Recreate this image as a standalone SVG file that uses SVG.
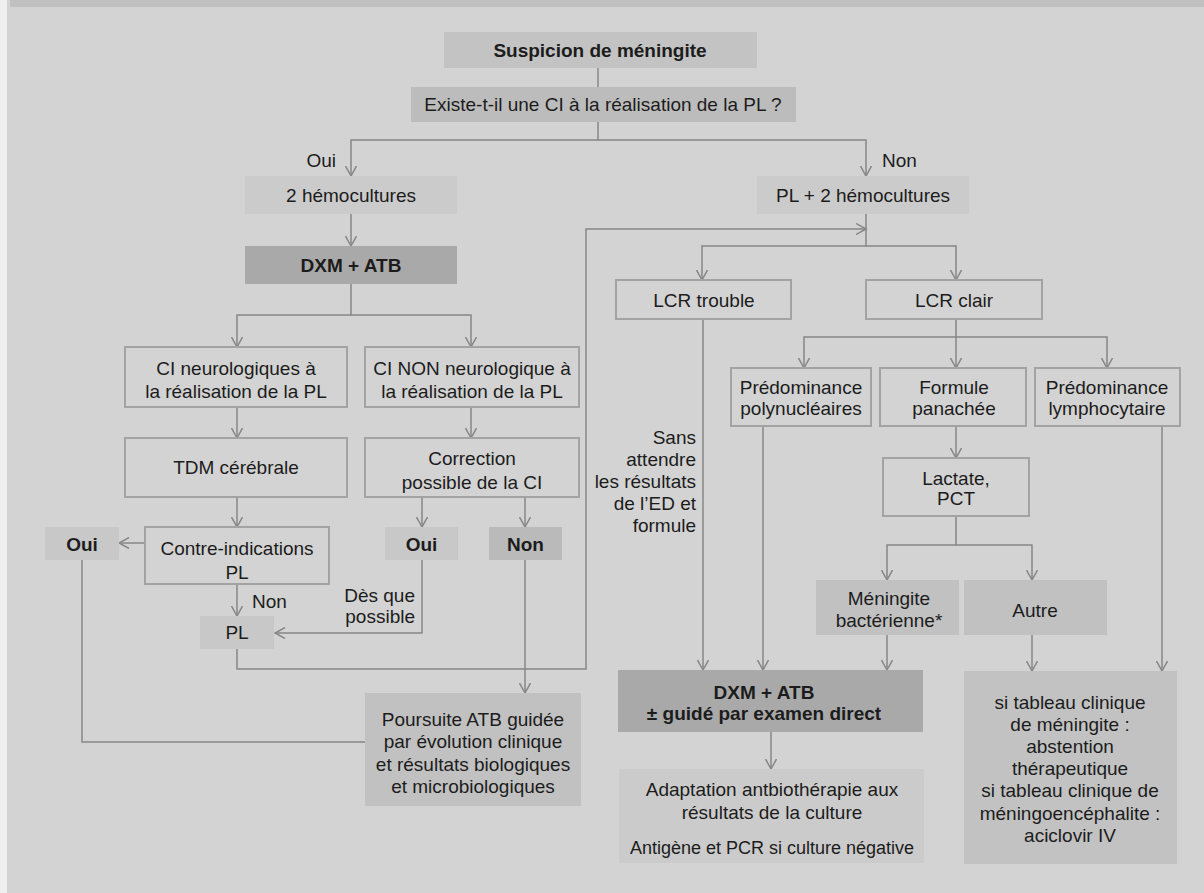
<svg xmlns="http://www.w3.org/2000/svg" width="1204" height="893" viewBox="0 0 1204 893">
<defs>
<style>
text{font-family:"Liberation Sans",Arial,Helvetica,sans-serif;font-size:19px;fill:#1c1c1c;text-anchor:middle}
.b{font-weight:bold}
.l{text-anchor:end}
.s{text-anchor:start}
.ob{fill:#d3d3d3;stroke:#a3a3a3;stroke-width:2}
.light{fill:#cbcbcb}
.mid{fill:#c1c1c1}
.dark{fill:#a9a9a9}
.conn path{fill:none;stroke:#878787;stroke-width:1.5}
.conn path.a{marker-end:url(#arr)}
</style>
<marker id="arr" viewBox="0 0 12 12" refX="10.5" refY="6" markerWidth="12" markerHeight="12" markerUnits="userSpaceOnUse" orient="auto">
<path d="M0.5,0.5 L10.5,6 L0.5,11.5" fill="none" stroke="#878787" stroke-width="1.5"/>
</marker>
</defs>
<rect x="0" y="0" width="1204" height="893" fill="#d3d3d3"/>
<rect x="0" y="0" width="7" height="893" fill="#f0f0f0"/>
<rect x="10" y="0" width="1194" height="7" fill="#c0c0c0"/>

<g class="conn" id="connectors">
<path d="M598,68 V87"/>
<path class="a" d="M598,122 V140 H351 V176"/>
<path class="a" d="M598,140 H866 V176"/>
<path class="a" d="M351,214 V246"/>
<path class="a" d="M351,284 V315 H237 V347"/>
<path class="a" d="M351,315 H471 V347"/>
<path class="a" d="M237,407 V438"/>
<path class="a" d="M471,407 V438"/>
<path class="a" d="M237,497 V527"/>
<path class="a" d="M145,543 H119"/>
<path class="a" d="M422,497 V527"/>
<path class="a" d="M525,497 V527"/>
<path class="a" d="M237,584 V616"/>
<path class="a" d="M422,560 V633 H275"/>
<path class="a" d="M237,649 V669 H586 V229 H866"/>
<path class="a" d="M525,560 V693"/>
<path d="M82,560 V742 H365"/>
<path class="a" d="M866,214 V246 H702 V280"/>
<path class="a" d="M866,246 H956 V280"/>
<path class="a" d="M703,319 V670"/>
<path class="a" d="M956,319 V337 H804 V368"/>
<path class="a" d="M956,337 V368"/>
<path class="a" d="M956,337 H1107 V368"/>
<path class="a" d="M763,426 V670"/>
<path class="a" d="M956,426 V458"/>
<path class="a" d="M956,516 V545 H887 V580"/>
<path class="a" d="M956,545 H1032 V580"/>
<path class="a" d="M887,635 V670"/>
<path class="a" d="M1032,635 V671"/>
<path class="a" d="M1162,426 V671"/>
<path class="a" d="M771,732 V769"/>
</g>

<g id="labels">
<text class="l" x="336" y="167">Oui</text>
<text class="s" x="882" y="167">Non</text>
<text class="s" x="252" y="608">Non</text>
<text class="l" x="415" y="602">Dès que</text>
<text class="l" x="415" y="623">possible</text>
<text class="l" x="696" y="443.5">Sans</text>
<text class="l" x="696" y="465.5">attendre</text>
<text class="l" x="696" y="487.5">les résultats</text>
<text class="l" x="696" y="509.5">de l’ED et</text>
<text class="l" x="696" y="532">formule</text>
</g>

<g id="n_suspicion"><rect x="444" y="32" width="313" height="36" fill="#c3c3c3"/><text class="b" x="600" y="56.5">Suspicion de méningite</text></g>
<g id="n_existe"><rect x="411" y="87" width="385" height="35" fill="#bcbcbc"/><text x="603" y="111">Existe-t-il une CI à la réalisation de la PL ?</text></g>
<g id="n_hemo"><rect class="light" x="245" y="176" width="212" height="38"/><text x="351" y="201.5">2 hémocultures</text></g>
<g id="n_plhemo"><rect class="light" x="757" y="176" width="212" height="38"/><text x="863" y="201.5">PL + 2 hémocultures</text></g>
<g id="n_dxm1"><rect class="dark" x="245" y="246" width="212" height="38"/><text class="b" x="351" y="271.5">DXM + ATB</text></g>
<g id="n_cineuro"><rect class="ob" x="125" y="347" width="222" height="60"/><text x="236" y="375">CI neurologiques à</text><text x="236" y="397.5">la réalisation de la PL</text></g>
<g id="n_cinon"><rect class="ob" x="365" y="347" width="214" height="60"/><text x="472" y="375">CI NON neurologique à</text><text x="472" y="397.5">la réalisation de la PL</text></g>
<g id="n_tdm"><rect class="ob" x="125" y="438" width="222" height="59"/><text x="236" y="474">TDM cérébrale</text></g>
<g id="n_correction"><rect class="ob" x="365" y="438" width="214" height="59"/><text x="472" y="464.5">Correction</text><text x="472" y="488.5">possible de la CI</text></g>
<g id="n_contre"><rect class="ob" x="145" y="527" width="184" height="57"/><text x="237" y="554.5">Contre-indications</text><text x="237" y="578.5">PL</text></g>
<g id="n_oui1"><rect x="45" y="527" width="74" height="33" fill="#c8c8c8"/><text class="b" x="82" y="550.5">Oui</text></g>
<g id="n_oui2"><rect x="385" y="527" width="73" height="33" fill="#c8c8c8"/><text class="b" x="421.5" y="550.5">Oui</text></g>
<g id="n_non"><rect x="489" y="527" width="73" height="33" fill="#bababa"/><text class="b" x="525.5" y="550.5">Non</text></g>
<g id="n_pl"><rect x="200" y="616" width="74" height="33" fill="#c8c8c8"/><text x="237" y="639">PL</text></g>
<g id="n_poursuite"><rect class="mid" x="365" y="693" width="216" height="113"/><text x="473" y="725.5">Poursuite ATB guidée</text><text x="473" y="748">par évolution clinique</text><text x="473" y="770.5">et résultats biologiques</text><text x="473" y="792.5">et microbiologiques</text></g>
<g id="n_lcrtrouble"><rect class="ob" x="616" y="280" width="175" height="39"/><text x="704" y="306.5">LCR trouble</text></g>
<g id="n_lcrclair"><rect class="ob" x="866" y="280" width="176" height="39"/><text x="954" y="306.5">LCR clair</text></g>
<g id="n_poly"><rect class="ob" x="731" y="368" width="140" height="58"/><text x="801" y="393.5">Prédominance</text><text x="801" y="414.5">polynucléaires</text></g>
<g id="n_formule"><rect class="ob" x="880" y="368" width="146" height="58"/><text x="954" y="393.5">Formule</text><text x="954" y="414.5">panachée</text></g>
<g id="n_lympho"><rect class="ob" x="1035" y="368" width="145" height="58"/><text x="1107" y="393.5">Prédominance</text><text x="1107" y="414.5">lymphocytaire</text></g>
<g id="n_lactate"><rect class="ob" x="883" y="458" width="146" height="58"/><text x="956" y="484.5">Lactate,</text><text x="956" y="504.5">PCT</text></g>
<g id="n_meningite"><rect class="mid" x="816" y="580" width="143" height="55"/><text x="889" y="604.5">Méningite</text><text x="889" y="626.5">bactérienne*</text></g>
<g id="n_autre"><rect class="mid" x="964" y="580" width="143" height="55"/><text x="1035" y="616.5">Autre</text></g>
<g id="n_dxm2"><rect class="dark" x="618" y="670" width="305" height="62"/><text class="b" x="764" y="698.5">DXM + ATB</text><text class="b" x="764" y="719.5">± guidé par examen direct</text></g>
<g id="n_adapt"><rect class="light" x="619" y="769" width="305" height="94"/><text x="772" y="795.5">Adaptation antbiothérapie aux</text><text x="772" y="818.5">résultats de la culture</text><text x="772" y="853.5" style="font-size:18px">Antigène et PCR si culture négative</text></g>
<g id="n_right"><rect x="964" y="671" width="213" height="193" fill="#c2c2c2"/><text x="1070" y="708.5">si tableau clinique</text><text x="1070" y="730.7">de méningite :</text><text x="1070" y="752.9">abstention</text><text x="1070" y="775.1">thérapeutique</text><text x="1070" y="797.3">si tableau clinique de</text><text x="1070" y="819.5">méningoencéphalite :</text><text x="1070" y="841.7">aciclovir IV</text></g>
</svg>
